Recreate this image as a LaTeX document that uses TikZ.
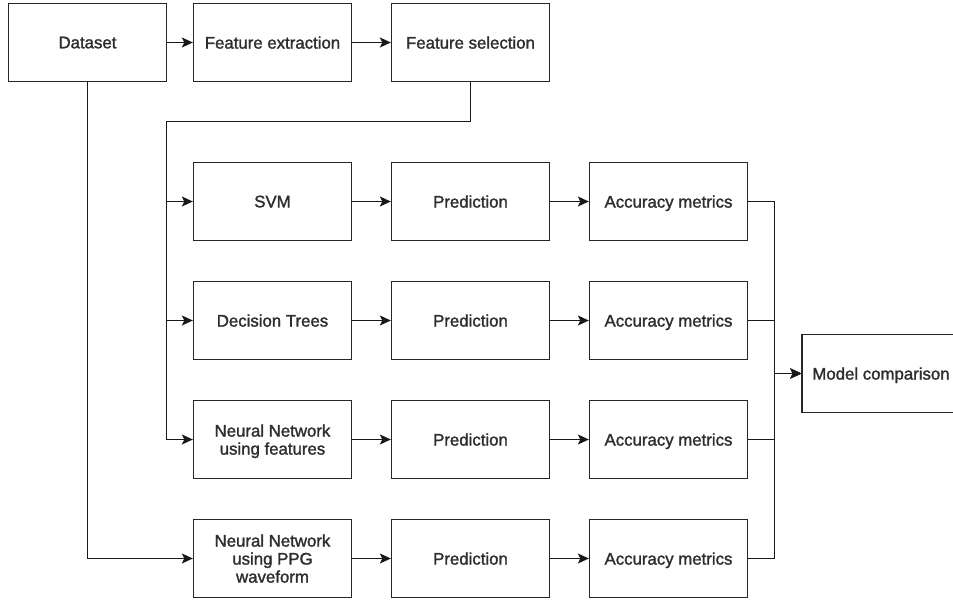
\documentclass[tikz,border=0pt]{standalone}
\usepackage{fontspec}
\setmainfont{Liberation Sans}
\newfontfamily\labfont{Liberation Sans}[BoldFont={Liberation Sans}, BoldFeatures={FakeBold=1.6}]
\usetikzlibrary{arrows.meta}
\begin{document}
\begin{tikzpicture}[x=1pt,y=-1pt,
  box/.style={draw=black!85, line width=1.3pt, minimum width=158pt, minimum height=78pt,
    inner sep=2pt, align=center, text=black!82, text depth=0pt,
    font=\labfont\bfseries\fontsize{16.8pt}{18pt}\selectfont},
  conn/.style={draw=black!90, line width=1.3pt},
  arr/.style={conn, -{Stealth[length=11pt,width=10pt,inset=2.5pt]}}
]
\useasboundingbox (0,0) rectangle (953,602);
% top row
\node[box] (ds) at (87.5,42.5) {Dataset};
\node[box] (fe) at (272.5,42.5) {Feature extraction};
\node[box] (fs) at (470.5,42.5) {Feature selection};
% model rows
\node[box] (svm) at (272.5,201.5) {SVM};
\node[box] (p1) at (470.5,201.5) {Prediction};
\node[box] (a1) at (668.5,201.5) {Accuracy metrics};
\node[box] (dt) at (272.5,320.5) {Decision Trees};
\node[box] (p2) at (470.5,320.5) {Prediction};
\node[box] (a2) at (668.5,320.5) {Accuracy metrics};
\node[box] (nnf) at (272.5,439.5) {Neural Network\\using features};
\node[box] (p3) at (470.5,439.5) {Prediction};
\node[box] (a3) at (668.5,439.5) {Accuracy metrics};
\node[box] (nnp) at (272.5,558.5) {Neural Network\\using PPG\\waveform};
\node[box] (p4) at (470.5,558.5) {Prediction};
\node[box] (a4) at (668.5,558.5) {Accuracy metrics};
\node[box] (mc) at (881,373.5) {Model comparison};
% connectors top
\draw[arr] (ds) -- (fe);
\draw[arr] (fe) -- (fs);
\coordinate (j1) at (166.5,121.5);
\coordinate (b1) at (j1 |- svm.west);
\coordinate (b2) at (j1 |- dt.west);
\coordinate (b3) at (j1 |- nnf.west);
\draw[conn] (fs.south) |- (j1) -- (b3);
\draw[arr] (b1) -- (svm.west);
\draw[arr] (b2) -- (dt.west);
\draw[arr] (b3) -- (nnf.west);
\draw[arr] (ds.south) |- (nnp.west);
% row arrows
\foreach \m/\p/\a in {svm/p1/a1, dt/p2/a2, nnf/p3/a3, nnp/p4/a4}{
  \draw[arr] (\m) -- (\p);
  \draw[arr] (\p) -- (\a);
  \draw[arr] (\a.east) -- ++(26,0) |- (mc.west);
}
\end{tikzpicture}
\end{document}
